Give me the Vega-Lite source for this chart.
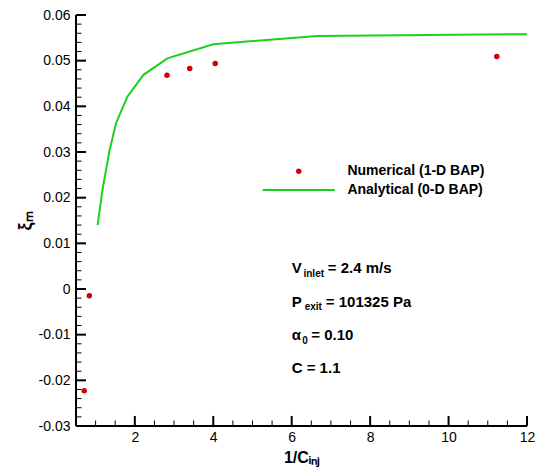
{
  "$schema": "https://vega.github.io/schema/vega-lite/v6.json",
  "width": 451,
  "height": 411,
  "autosize": "none",
  "padding": {"left": 76, "top": 15, "right": 15, "bottom": 42},
  "background": "white",
  "config": {"view": {"stroke": null}, "font": "Liberation Sans"},
  "resolve": {"axis": {"x": "independent", "y": "independent"}},
  "datasets": {
    "analytical": [
      {"x": 1.05, "y": 0.014},
      {"x": 1.18, "y": 0.022},
      {"x": 1.35, "y": 0.0301},
      {"x": 1.52, "y": 0.0363},
      {"x": 1.81, "y": 0.0421},
      {"x": 2.22, "y": 0.0469},
      {"x": 2.83, "y": 0.0505},
      {"x": 4.0, "y": 0.0536},
      {"x": 6.65, "y": 0.0554},
      {"x": 12.0, "y": 0.0558}
    ],
    "numerical": [
      {"x": 0.71, "y": -0.0223},
      {"x": 0.84, "y": -0.0015},
      {"x": 2.82, "y": 0.0468},
      {"x": 3.4, "y": 0.0483},
      {"x": 4.05, "y": 0.0494},
      {"x": 11.23, "y": 0.0509}
    ],
    "single": [{}],
    "xMajor": [{"v": 2}, {"v": 4}, {"v": 6}, {"v": 8}, {"v": 10}, {"v": 12}],
    "xMinor": [{"v": 1}, {"v": 1.5}, {"v": 2.5}, {"v": 3}, {"v": 3.5}, {"v": 4.5}, {"v": 5}, {"v": 5.5}, {"v": 6.5}, {"v": 7}, {"v": 7.5}, {"v": 8.5}, {"v": 9}, {"v": 9.5}, {"v": 10.5}, {"v": 11}, {"v": 11.5}],
    "yMajor": [{"v": -0.02}, {"v": -0.01}, {"v": 0}, {"v": 0.01}, {"v": 0.02}, {"v": 0.03}, {"v": 0.04}, {"v": 0.05}, {"v": 0.06}],
    "yMinor": [{"v": -0.028}, {"v": -0.026}, {"v": -0.024}, {"v": -0.022}, {"v": -0.018}, {"v": -0.016}, {"v": -0.014}, {"v": -0.012}, {"v": -0.008}, {"v": -0.006}, {"v": -0.004}, {"v": -0.002}, {"v": 0.002}, {"v": 0.004}, {"v": 0.006}, {"v": 0.008}, {"v": 0.012}, {"v": 0.014}, {"v": 0.016}, {"v": 0.018}, {"v": 0.022}, {"v": 0.024}, {"v": 0.026}, {"v": 0.028}, {"v": 0.032}, {"v": 0.034}, {"v": 0.036}, {"v": 0.038}, {"v": 0.042}, {"v": 0.044}, {"v": 0.046}, {"v": 0.048}, {"v": 0.052}, {"v": 0.054}, {"v": 0.056}, {"v": 0.058}],
    "legendPoint": [{"x": 6.18, "y": 0.0258}],
    "legendLine": [{"x": 5.26, "x2": 7.1, "y": 0.0217}],
    "legendText": [
      {"x": 7.42, "y": 0.0258, "text": "Numerical (1-D BAP)"},
      {"x": 7.42, "y": 0.0217, "text": "Analytical (0-D BAP)"}
    ],
    "notes": [
      {"x": 6.0, "y": 0.00351, "text": "V", "part": "main"},
      {"x": 6.3, "y": 0.00263, "text": "inlet", "part": "sub"},
      {"x": 6.92, "y": 0.00351, "text": "= 2.4 m/s", "part": "main"},
      {"x": 6.0, "y": -0.00387, "text": "P", "part": "main"},
      {"x": 6.33, "y": -0.00459, "text": "exit", "part": "sub"},
      {"x": 6.87, "y": -0.00387, "text": "= 101325 Pa", "part": "main"},
      {"x": 6.0, "y": -0.01116, "text": "α", "part": "main"},
      {"x": 6.27, "y": -0.01204, "text": "0", "part": "sub"},
      {"x": 6.5, "y": -0.01116, "text": "= 0.10", "part": "main"},
      {"x": 6.0, "y": -0.01846, "text": "C = 1.1", "part": "main"}
    ]
  },
  "layer": [
    {
      "data": {"name": "analytical"},
      "mark": {"type": "line", "color": "#1ecf1e", "strokeWidth": 2},
      "encoding": {
        "x": {
          "field": "x", "type": "quantitative",
          "scale": {"domain": [0.5, 12], "nice": false, "zero": false},
          "axis": {
            "orient": "bottom",
            "values": [2, 4, 6, 8, 10, 12],
            "domain": false,
            "ticks": false,
            "grid": false,
            "labelFont": "Liberation Sans",
            "labelFontSize": 14,
            "labelColor": "black",
            "labelPadding": 4,
            "labelFlush": false,
            "labelOverlap": false,
            "title": "1/Cᵢₙⱼ",
            "titleFont": "Liberation Sans",
            "titleFontSize": 16,
            "titleFontWeight": "bold",
            "titleColor": "black",
            "titlePadding": 5
          }
        },
        "y": {
          "field": "y", "type": "quantitative",
          "scale": {"domain": [-0.03, 0.06], "nice": false, "zero": false},
          "axis": {
            "orient": "left",
            "values": [-0.03, -0.02, -0.01, 0, 0.01, 0.02, 0.03, 0.04, 0.05, 0.06],
            "labelExpr": "replace(format(datum.value, '~g'), '\u2212', '-')",
            "domain": false,
            "ticks": false,
            "grid": false,
            "labelFont": "Liberation Sans",
            "labelFontSize": 14,
            "labelColor": "black",
            "labelPadding": 6,
            "labelFlush": false,
            "labelOverlap": false,
            "title": "ξₘ",
            "titleFont": "Liberation Sans",
            "titleFontSize": 18,
            "titleFontWeight": "bold",
            "titleColor": "black",
            "titlePadding": 4
          }
        }
      }
    },
    {
      "data": {"name": "xMinor"},
      "mark": {"type": "rule", "color": "black", "strokeWidth": 1},
      "encoding": {
        "x": {"field": "v", "type": "quantitative", "axis": null},
        "y": {"datum": -0.03, "type": "quantitative", "axis": null},
        "y2": {"datum": -0.0288}
      }
    },
    {
      "data": {"name": "xMajor"},
      "mark": {"type": "rule", "color": "black", "strokeWidth": 2},
      "encoding": {
        "x": {"field": "v", "type": "quantitative", "axis": null},
        "y": {"datum": -0.03, "type": "quantitative", "axis": null},
        "y2": {"datum": -0.0278}
      }
    },
    {
      "data": {"name": "yMinor"},
      "mark": {"type": "rule", "color": "black", "strokeWidth": 1},
      "encoding": {
        "y": {"field": "v", "type": "quantitative", "axis": null},
        "x": {"datum": 0.5, "type": "quantitative", "axis": null},
        "x2": {"datum": 0.64}
      }
    },
    {
      "data": {"name": "yMajor"},
      "mark": {"type": "rule", "color": "black", "strokeWidth": 2},
      "encoding": {
        "y": {"field": "v", "type": "quantitative", "axis": null},
        "x": {"datum": 0.5, "type": "quantitative", "axis": null},
        "x2": {"datum": 0.755}
      }
    },
    {
      "data": {"name": "single"},
      "mark": {"type": "rule", "color": "black", "strokeWidth": 2},
      "encoding": {
        "y": {"datum": -0.03, "type": "quantitative", "axis": null},
        "x": {"datum": 0.5, "type": "quantitative", "axis": null},
        "x2": {"datum": 12}
      }
    },
    {
      "data": {"name": "single"},
      "mark": {"type": "rule", "color": "black", "strokeWidth": 2},
      "encoding": {
        "x": {"datum": 0.5, "type": "quantitative", "axis": null},
        "y": {"datum": -0.03, "type": "quantitative", "axis": null},
        "y2": {"datum": 0.06}
      }
    },
    {
      "data": {"name": "numerical"},
      "mark": {"type": "point", "filled": true, "color": "#d40000", "size": 30, "opacity": 1},
      "encoding": {
        "x": {"field": "x", "type": "quantitative", "axis": null},
        "y": {"field": "y", "type": "quantitative", "axis": null}
      }
    },
    {
      "data": {"name": "legendPoint"},
      "mark": {"type": "point", "filled": true, "color": "#d40000", "size": 30, "opacity": 1},
      "encoding": {
        "x": {"field": "x", "type": "quantitative", "axis": null},
        "y": {"field": "y", "type": "quantitative", "axis": null}
      }
    },
    {
      "data": {"name": "legendLine"},
      "mark": {"type": "rule", "color": "#1ecf1e", "strokeWidth": 2},
      "encoding": {
        "x": {"field": "x", "type": "quantitative", "axis": null},
        "x2": {"field": "x2"},
        "y": {"field": "y", "type": "quantitative", "axis": null}
      }
    },
    {
      "data": {"name": "legendText"},
      "mark": {"type": "text", "align": "left", "baseline": "middle", "font": "Liberation Sans", "fontWeight": "bold", "fontSize": 14, "color": "black"},
      "encoding": {
        "x": {"field": "x", "type": "quantitative", "axis": null},
        "y": {"field": "y", "type": "quantitative", "axis": null},
        "text": {"field": "text"}
      }
    },
    {
      "data": {"name": "notes"},
      "mark": {"type": "text", "align": "left", "baseline": "alphabetic", "font": "Liberation Sans", "fontWeight": "bold", "color": "black"},
      "encoding": {
        "x": {"field": "x", "type": "quantitative", "axis": null},
        "y": {"field": "y", "type": "quantitative", "axis": null},
        "text": {"field": "text"},
        "size": {"field": "part", "type": "nominal", "scale": {"domain": ["main", "sub"], "range": [15, 10]}, "legend": null}
      }
    }
  ]
}
